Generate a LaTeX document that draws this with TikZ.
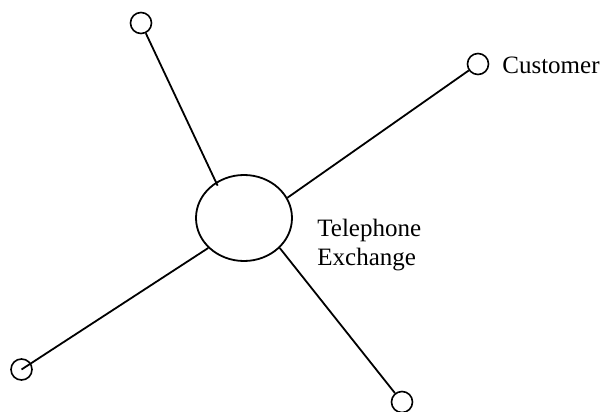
\documentclass[tikz,border=0pt]{standalone}
\usepackage{fontspec}
\setmainfont{Liberation Serif}
\usetikzlibrary{shapes.geometric}

\begin{document}
\begin{tikzpicture}[
  x=0.5pt, y=-0.5pt,
  exchange/.style={
    draw=black,
    ellipse,
    line width=0.9pt,
    minimum width=48pt,
    minimum height=43pt,
    inner sep=0pt
  },
  customer/.style={
    draw=black,
    circle,
    line width=0.8pt,
    minimum size=10.5pt,
    inner sep=0pt
  },
  wire/.style={line width=0.9pt, draw=black},
  caption/.style={font=\fontsize{12.5}{14.5}\selectfont, inner sep=0pt, align=left}
]

\useasboundingbox (0,0) rectangle (602,412);

% Exchange in the middle
\node[exchange] (ex) at (244,218) {};
\node[caption, anchor=base west] (exlabel) at (317,265) {Telephone\\Exchange};

% Customers round it
\node[customer] (ctop) at (141,23) {};
\node[customer] (cright) at (478,64) {};
\node[customer] (cbl) at (21.5,369.5) {};
\node[customer] (cbr) at (402,402) {};
\node[caption, anchor=base west] (custlabel) at (502,74) {Customer};

% Lines to the exchange
\draw[wire, shorten >=-2pt] (ctop) -- (ex.128);
\draw[wire] (ex.25) -- (cright);
\draw[wire] (cbl.center) -- (ex.220);
\draw[wire] (ex.320) -- (cbr);

\end{tikzpicture}
\end{document}
